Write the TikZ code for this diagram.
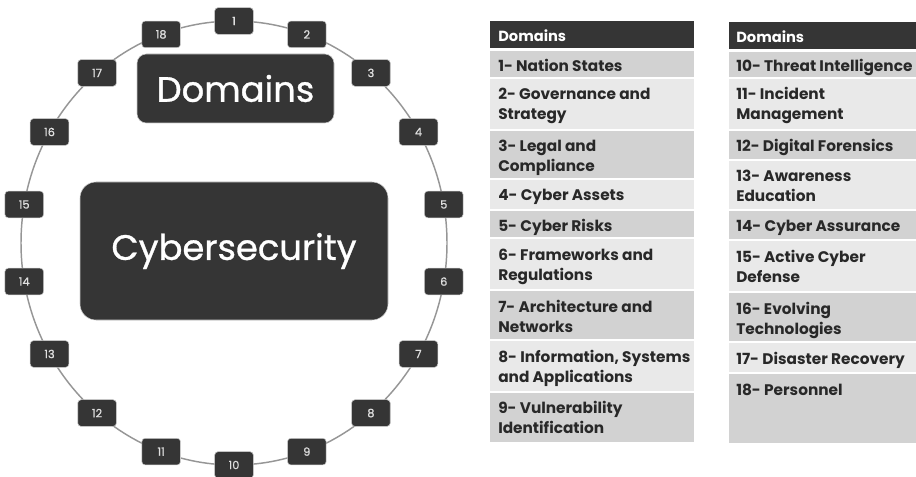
\documentclass[tikz,border=0pt]{standalone}
\usepackage{fontspec}
\setmainfont{Poppins}
\newfontfamily\labelfont[FakeBold=0.9]{Poppins}
\usetikzlibrary{positioning}
\definecolor{boxdark}{RGB}{53,53,53}
\definecolor{ringgrey}{RGB}{150,150,150}
\definecolor{rowmid}{RGB}{210,210,210}
\definecolor{rowlight}{RGB}{233,233,233}
\definecolor{textdark}{RGB}{40,40,40}

\begin{document}
\begin{tikzpicture}[x=0.75pt, y=-0.75pt,
    numbox/.style={rectangle, draw=ringgrey!50, fill=boxdark, rounded corners=2.5pt,
        minimum width=29pt, minimum height=20pt, inner sep=0pt,
        text=white!88!black, font=\labelfont\fontsize{8.5}{9}\selectfont},
    bigbox/.style={rectangle, draw=ringgrey!50, fill=boxdark, text=white,
        inner sep=0pt, font=\labelfont\fontsize{26.5}{27}\selectfont},
    hdrtext/.style={anchor=base west, inner sep=0pt, text=white,
        font=\bfseries\fontsize{11}{14}\selectfont},
    celltext/.style={anchor=base west, align=left, inner sep=0pt, text=textdark,
        font=\bfseries\fontsize{11.5}{15}\selectfont}
]
    \useasboundingbox (0,0) rectangle (916,477);
    \clip (0,0) rectangle (916,477);

    % ring of domains
    \draw[ringgrey, line width=1.1pt] (234,243) ellipse [x radius=159.75pt, y radius=166.5pt];
    \foreach \i in {1,...,18}
        \node[numbox] (n\i) at ({234+213*cos(90-20*(\i-1))}, {243-222*sin(90-20*(\i-1))}) {\i};

    \node[bigbox, minimum width=147.75pt, minimum height=51.75pt, rounded corners=7pt] (dom) at (235.5,88.5) {Domains};
    \node[bigbox, minimum width=231pt, minimum height=103.5pt, rounded corners=12pt] (cyber) at (234,251) {Cybersecurity};

    % left table (base = last line)
    \fill[boxdark] (490,21) rectangle (694,48);
    \foreach \ya/\yb/\c in {51/77/rowmid, 79/129/rowlight, 131/178/rowmid, 180/209/rowlight,
        211/237/rowmid, 239/289/rowlight, 291/339/rowmid, 341/391/rowlight, 393/442/rowmid}
        \fill[\c] (490,\ya) rectangle (694,\yb);
    \node[hdrtext] (hl) at (498,42) {Domains};
    \node[celltext] (t1) at (498,72) {1- Nation States};
    \node[celltext] (t2) at (498,120) {2- Governance and\\Strategy};
    \node[celltext] (t3) at (498,172) {3- Legal and\\Compliance};
    \node[celltext] (t4) at (498,201) {4- Cyber Assets};
    \node[celltext] (t5) at (498,232) {5- Cyber Risks};
    \node[celltext] (t6) at (498,280) {6- Frameworks and\\Regulations};
    \node[celltext] (t7) at (498,332) {7- Architecture and\\Networks};
    \node[celltext] (t8) at (498,382) {8- Information, Systems\\and Applications};
    \node[celltext] (t9) at (498,433) {9- Vulnerability\\Identification};

    % right table
    \fill[boxdark] (729,22) rectangle (920,49);
    \foreach \ya/\yb/\c in {52/77/rowmid, 79/129/rowlight, 131/159/rowmid, 161/209/rowlight,
        211/239/rowmid, 241/291/rowlight, 293/341/rowmid, 343/372/rowlight, 374/443/rowmid}
        \fill[\c] (729,\ya) rectangle (920,\yb);
    \node[hdrtext] (hr) at (736,43) {Domains};
    \node[celltext] (t10) at (736,72) {10- Threat Intelligence};
    \node[celltext] (t11) at (736,120) {11- Incident\\Management};
    \node[celltext] (t12) at (736,152) {12- Digital Forensics};
    \node[celltext] (t13) at (736,202) {13- Awareness\\Education};
    \node[celltext] (t14) at (736,232) {14- Cyber Assurance};
    \node[celltext] (t15) at (736,282) {15- Active Cyber\\Defense};
    \node[celltext] (t16) at (736,334) {16- Evolving\\Technologies};
    \node[celltext] (t17) at (736,364) {17- Disaster Recovery};
    \node[celltext] (t18) at (736,395) {18- Personnel};
\end{tikzpicture}
\end{document}
